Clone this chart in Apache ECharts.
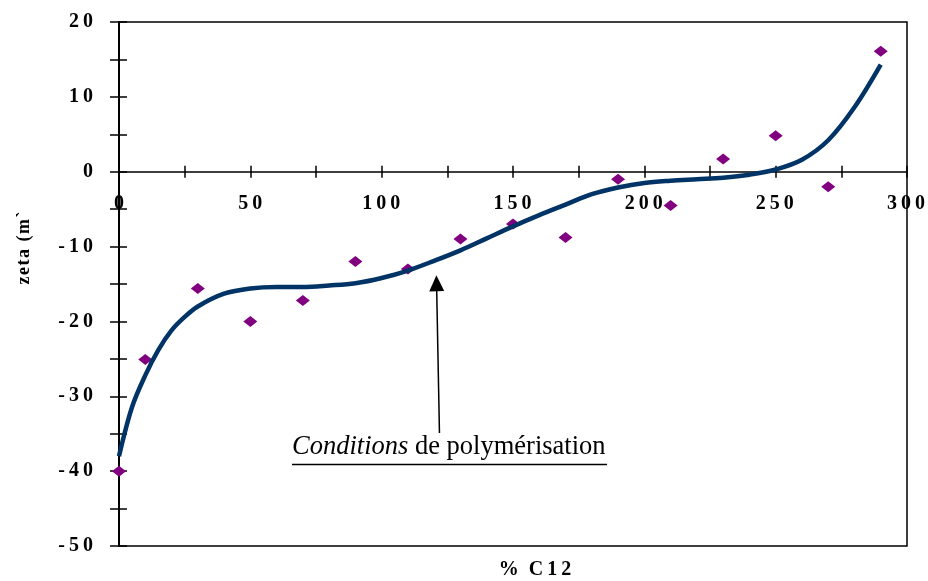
<!DOCTYPE html>
<html>
<head>
<meta charset="utf-8">
<script src="https://cdn.jsdelivr.net/npm/echarts@6/dist/echarts.min.js"></script>
<style>html,body{margin:0;padding:0;background:#fff}#c{width:928px;height:581px}</style>
</head>
<body>
<div id="c"></div>
<script>
// Measured points (% C12, zeta)
var pointX = [0, 10, 30, 50, 70, 90, 110, 130, 150, 170, 190, 210, 230, 250, 270, 290];
var pointY = [-40, -25.1, -15.6, -20, -17.2, -12, -13, -9, -7, -8.8, -1, -4.5, 1.7, 4.8, -2, 16.1];
// Trend curve
var curveX = [0, 5, 10, 15, 20, 25, 30, 40, 50, 60, 70, 80, 90, 100, 110, 120, 130, 140, 150, 160, 170, 180, 190, 200, 210, 220, 230, 240, 250, 260, 270, 280, 290];
var curveY = [-38, -31.4, -27.2, -23.8, -21.2, -19.4, -18.0, -16.3, -15.6, -15.4, -15.4, -15.2, -14.9, -14.2, -13.2, -11.9, -10.5, -8.9, -7.3, -5.8, -4.4, -3.0, -2.1, -1.5, -1.2, -1.0, -0.8, -0.4, 0.3, 1.6, 4.2, 8.6, 14.3];
var xAxisTitle = '%\u2002C\u20091\u20092';
var yAxisTitle = 'z\u200Ae\u200At\u200Aa\u200A \u200A(\u200Am\u200A`';
var noteItalic = 'Conditions';
var noteRest = ' de polymérisation';
var arrowFrom = [122, -34.9];
var arrowTo = [120.9, -14.9];
var yMin = -50, yMax = 20, xMin = 0, xMax = 300;

function spaced(v) { return String(v).split('').join('\u2009'); }
var serif = '"Liberation Serif", "Times New Roman", serif';

var chart = echarts.init(document.getElementById('c'), null, {renderer: 'canvas'});
var scatterData = pointX.map(function (x, i) { return [x, pointY[i]]; });
var curveData = curveX.map(function (x, i) { return [x, curveY[i]]; });

var labelStyle = {fontFamily: serif, fontWeight: 'bold', fontSize: 20, color: '#000'};
var gTop = 22, gBottom = 35, H = 581;
var plotH = H - gTop - gBottom;
var zeroY = gTop + plotH * (yMax - 0) / (yMax - yMin);

chart.setOption({
  animation: false,
  backgroundColor: '#fff',
  grid: [
    {left: 119, right: 21, top: gTop, bottom: gBottom, show: true, borderColor: '#000', borderWidth: 1.5, backgroundColor: 'transparent'},
    {left: 119, right: 21, top: gTop, bottom: H - zeroY, show: false}
  ],
  xAxis: [{
    type: 'value', min: xMin, max: xMax, interval: 25, gridIndex: 0,
    axisLine: {onZero: true, onZeroAxisIndex: 0, lineStyle: {color: '#000', width: 1.5}},
    axisTick: {show: true, inside: false, length: 6, lineStyle: {color: '#000', width: 1.5}},
    axisLabel: {show: false},
    splitLine: {show: false}
  }, {
    type: 'value', min: xMin, max: xMax, interval: 25, position: 'bottom', gridIndex: 0,
    axisLine: {show: false, onZero: true, onZeroAxisIndex: 0},
    axisTick: {show: true, inside: true, length: 6, lineStyle: {color: '#000', width: 1.5}},
    axisLabel: {show: false},
    splitLine: {show: false}
  }, {
    type: 'value', min: xMin, max: xMax, interval: 25, position: 'bottom', gridIndex: 1,
    axisLine: {show: false, onZero: false},
    axisTick: {show: false},
    axisLabel: Object.assign({margin: 22, showMinLabel: true, showMaxLabel: true, hideOverlap: false,
      formatter: function (v) { return v % 50 === 0 ? spaced(v) : ''; }}, labelStyle),
    splitLine: {show: false}
  }],
  yAxis: [{
    type: 'value', min: yMin, max: yMax, interval: 5, gridIndex: 0,
    axisLine: {show: true, onZero: false, lineStyle: {color: '#000', width: 2}},
    axisTick: {show: true, inside: false, length: 9, lineStyle: {color: '#000', width: 1.5}},
    axisLabel: Object.assign({margin: 26,
      formatter: function (v) { return v % 10 === 0 ? spaced(v) : ''; }}, labelStyle),
    splitLine: {show: false}
  }, {
    type: 'value', min: yMin, max: yMax, interval: 5, position: 'left', gridIndex: 0,
    axisLine: {show: false, onZero: false},
    axisTick: {show: true, inside: true, length: 8, lineStyle: {color: '#000', width: 1.5}},
    axisLabel: {show: false},
    splitLine: {show: false}
  }, {
    type: 'value', min: 0, max: yMax, gridIndex: 1, show: false
  }],
  series: [{
    type: 'scatter', xAxisIndex: 0, yAxisIndex: 0,
    data: scatterData, symbol: 'diamond', symbolSize: [14, 11],
    itemStyle: {color: '#800080', opacity: 1}, z: 3
  }, {
    type: 'line', xAxisIndex: 0, yAxisIndex: 0,
    data: curveData, smooth: 0.35, showSymbol: false, symbol: 'none',
    lineStyle: {color: '#003366', width: 4.5}, z: 4,
    markLine: {
      silent: true, symbol: ['none', 'triangle'], symbolSize: [15, 16],
      label: {show: false},
      lineStyle: {color: '#000', width: 1.5, type: 'solid'},
      data: [[{coord: arrowFrom}, {coord: arrowTo}]]
    }
  }],
  graphic: [{
    type: 'text', left: 292, top: 434,
    style: {
      text: '{i|' + noteItalic + '}{n|' + noteRest + '}',
      rich: {
        i: {fontFamily: serif, fontStyle: 'italic', fontSize: 26.5, fill: '#000'},
        n: {fontFamily: serif, fontSize: 26.5, fill: '#000'}
      }
    }
  }, {
    type: 'line', shape: {x1: 292, y1: 464.5, x2: 607, y2: 464.5},
    style: {stroke: '#000', lineWidth: 1.5}
  }, {
    type: 'text', x: 535, y: 570,
    style: {text: xAxisTitle, font: 'bold 20px ' + serif, fill: '#000', align: 'center', verticalAlign: 'middle'}
  }, {
    type: 'text', x: 24, y: 248, rotation: Math.PI / 2,
    style: {text: yAxisTitle, font: 'bold 18px ' + serif, fill: '#000', align: 'center', verticalAlign: 'middle'}
  }]
});
</script>
</body>
</html>
